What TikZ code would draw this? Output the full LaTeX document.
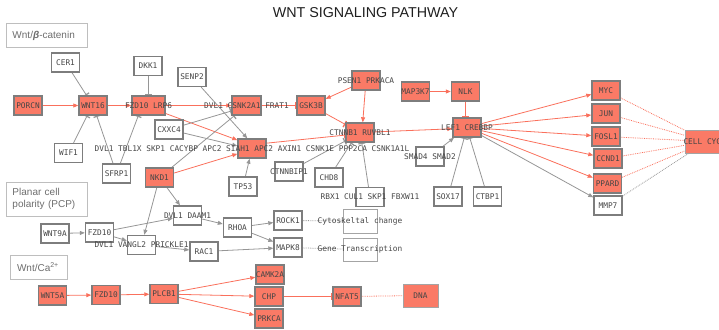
\documentclass[tikz,border=0pt]{standalone}
\usepackage{fontspec}
\setmainfont{Liberation Sans}
\newfontfamily\genefont{DejaVu Sans Mono}
\usetikzlibrary{arrows.meta,backgrounds}

\definecolor{hitfill}{RGB}{250,122,102}
\definecolor{rededge}{RGB}{250,112,92}
\definecolor{boxline}{RGB}{125,125,125}
\definecolor{grayedge}{RGB}{150,150,150}
\definecolor{genetext}{RGB}{70,70,70}
\definecolor{legendline}{RGB}{190,190,190}
\definecolor{legendtext}{RGB}{110,110,110}

% centred label that may run wider than its box
\newcommand{\genelbl}[1]{\makebox[0pt]{#1}}

\tikzset{
  gene/.style={rectangle, draw=boxline, line width=1.4pt, fill=white,
    minimum width=28pt, minimum height=19pt, inner sep=0pt,
    font=\genefont\fontsize{7.8}{9}\selectfont, text=genetext},
  hit/.style={gene, fill=hitfill},
  pheno/.style={gene, draw=boxline!70, line width=1pt},
  legendbox/.style={rectangle, draw=legendline, line width=1pt, fill=white,
    align=left, inner ysep=0pt, font=\fontsize{10}{11.7}\selectfont, text=legendtext},
  act/.style={draw=rededge, line width=0.8pt, -{Triangle[length=5pt,width=4pt]}},
  inh/.style={draw=rededge, line width=0.8pt, -{Bar[width=7pt,line width=1.3pt]}},
  gact/.style={draw=grayedge, line width=0.8pt, -{Triangle[length=5pt,width=4pt]}},
  ginh/.style={draw=grayedge, line width=0.8pt, -{Bar[width=7pt,line width=1.3pt]}},
  rdot/.style={draw=rededge, line width=0.8pt, densely dotted},
  gdot/.style={draw=grayedge, line width=0.8pt, densely dotted},
}

\begin{document}
\begin{tikzpicture}[x=1pt, y=-1pt]
\useasboundingbox (0,0) rectangle (719,329);
\clip (0,0) rectangle (719,329);

% title
\node[font=\fontsize{14.3}{16}\selectfont, text={rgb,255:red,30;green,30;blue,30}] (title) at (365.5,13) {WNT SIGNALING PATHWAY};

% section captions
\node[legendbox, minimum width=81pt, minimum height=24pt, text width=68pt, inner xsep=6.5pt] (lgcanon) at (46.5,36) {Wnt/{\bfseries\itshape β}-catenin};
\node[legendbox, minimum width=81pt, minimum height=34pt, text width=68pt, inner xsep=6.5pt] (lgpcp) at (46.5,199) {Planar cell\\polarity (PCP)};
\node[legendbox, minimum width=57pt, minimum height=24pt, text width=43pt, inner xsep=7pt] (lgca) at (38.5,267) {Wnt/Ca\textsuperscript{2+}};

% canonical pathway
\node[hit] (porcn) at (28,105.5) {\genelbl{PORCN}};
\node[hit] (wnt16) at (93,105.5) {\genelbl{WNT16}};
\node[hit, minimum width=33pt] (lrp6) at (148.5,105.5) {\genelbl{FZD10 LRP6}};
\node[gene] (cer1) at (65.5,62.5) {\genelbl{CER1}};
\node[gene] (dkk1) at (148,66) {\genelbl{DKK1}};
\node[gene] (wif1) at (68.5,153) {\genelbl{WIF1}};
\node[gene] (sfrp1) at (116.5,173.5) {\genelbl{SFRP1}};
\node[gene] (senp2) at (192,77) {\genelbl{SENP2}};
\node[gene] (cxxc4) at (169,129.5) {\genelbl{CXXC4}};
\node[hit] (nkd1) at (159.5,177.5) {\genelbl{NKD1}};
\node[hit, minimum width=29pt] (csnk) at (246.5,105.5) {\genelbl{DVL1 CSNK2A1 FRAT1}};
\node[hit] (gsk) at (311,105.5) {\genelbl{GSK3B}};
\node[hit] (siah) at (252,148.5) {\genelbl{DVL1 TBL1X SKP1 CACYBP APC2 SIAH1 APC2 AXIN1 CSNK1E PPP2CA CSNK1A1L}};
\node[gene] (tp53) at (243,186.5) {\genelbl{TP53}};
\node[gene] (ctnnbip) at (289,171.5) {\genelbl{CTNNBIP1}};
\node[gene] (chd8) at (329,177.5) {\genelbl{CHD8}};
\node[gene] (rbx) at (370,197) {\genelbl{RBX1 CUL1 SKP1 FBXW11}};
\node[hit] (ctnnb) at (360,132.5) {\genelbl{CTNNB1 RUVBL1}};
\node[hit] (psen) at (366,80.5) {\genelbl{PSEN1 PRKACA}};
\node[hit] (map3k7) at (415.5,91.5) {\genelbl{MAP3K7}};
\node[hit] (nlk) at (465.5,91.5) {\genelbl{NLK}};
\node[hit] (lef) at (467,127.5) {\genelbl{LEF1 CREBBP}};
\node[gene] (smad) at (430,156.5) {\genelbl{SMAD4 SMAD2}};
\node[gene] (sox17) at (448,196.5) {\genelbl{SOX17}};
\node[gene] (ctbp1) at (487.5,196.5) {\genelbl{CTBP1}};
\node[hit] (myc) at (606,90.5) {\genelbl{MYC}};
\node[hit] (jun) at (606,113.5) {\genelbl{JUN}};
\node[hit] (fosl1) at (606,136.5) {\genelbl{FOSL1}};
\node[hit] (ccnd1) at (608,158.5) {\genelbl{CCND1}};
\node[hit] (ppard) at (607.5,183.5) {\genelbl{PPARD}};
\node[gene] (mmp7) at (608,205.5) {\genelbl{MMP7}};
\node[hit, draw=boxline!70, line width=1pt, minimum width=44pt, minimum height=23pt] (cellcycle) at (707,141.5) {\genelbl{CELL CYCLE}};

% planar cell polarity
\node[gene] (wnt9a) at (55,233.5) {\genelbl{WNT9A}};
\node[gene] (fzdp) at (99.5,232.5) {\genelbl{FZD10}};
\node[gene] (daam) at (187.5,215.5) {\genelbl{DVL1 DAAM1}};
\node[gene] (vangl) at (141.5,245) {\genelbl{DVL1 VANGL2 PRICKLE1}};
\node[gene] (rac1) at (204,251.5) {\genelbl{RAC1}};
\node[gene] (rhoa) at (237.5,227.5) {\genelbl{RHOA}};
\node[gene] (rock1) at (288,220.5) {\genelbl{ROCK1}};
\node[gene] (mapk8) at (288,247.5) {\genelbl{MAPK8}};
\node[pheno, minimum width=34pt, minimum height=24pt] (cyto) at (360,221) {\genelbl{Cytoskeltal change}};
\node[pheno, minimum width=34pt, minimum height=23pt] (genetx) at (360,249.5) {\genelbl{Gene Transcription}};

% calcium pathway
\node[hit] (wnt5a) at (52.5,295.5) {\genelbl{WNT5A}};
\node[hit] (fzdc) at (106,295) {\genelbl{FZD10}};
\node[hit] (plcb1) at (164,294) {\genelbl{PLCB1}};
\node[hit] (camk2a) at (270,274.5) {\genelbl{CAMK2A}};
\node[hit] (chp) at (269,296.5) {\genelbl{CHP}};
\node[hit] (prkca) at (269,318.5) {\genelbl{PRKCA}};
\node[hit] (nfat5) at (347,296.5) {\genelbl{NFAT5}};
\node[hit, draw=boxline!70, line width=1pt, minimum width=35pt, minimum height=23pt] (dna) at (420.5,295.5) {\genelbl{DNA}};

\begin{pgfonlayer}{background}
% canonical: red interactions
\draw[act] (porcn) -- (wnt16);
\draw[act] (wnt16) -- (lrp6);
\draw[act] (lrp6) -- (csnk);
\draw[act] (lrp6.-25) -- (siah.150);
\draw[act] (nkd1) -- (siah.200);
\draw[inh] (csnk) -- (gsk);
\draw[act] (psen) -- (gsk);
\draw[act] (psen) -- (ctnnb.75);
\draw[inh] (gsk) -- (ctnnb);
\draw[inh] (siah.20) -- (ctnnb.190);
\draw[act] (ctnnb) -- (lef.185);
\draw[act] (map3k7) -- (nlk);
\draw[inh] (nlk.south) -- (nlk.south |- lef.north);
\draw[act] (lef) -- (myc);
\draw[act] (lef) -- (jun);
\draw[act] (lef) -- (fosl1);
\draw[act] (lef) -- (ccnd1);
\draw[act] (lef) -- (ppard);
% canonical: grey interactions
\draw[ginh] (cer1) -- (wnt16);
\draw[ginh] (dkk1) -- (dkk1 |- lrp6.north);
\draw[ginh] (wif1) -- (wnt16.-120);
\draw[ginh] (sfrp1) -- (wnt16.-70);
\draw[ginh] (sfrp1) -- (lrp6.-135);
\draw[gact] (senp2) -- (siah.115);
\draw[ginh] (cxxc4) -- (csnk.200);
\draw[gact] (cxxc4) -- (siah.170);
\draw[ginh] (nkd1) -- (csnk.220);
\draw[gact] (tp53) -- (siah);
\draw[ginh] (ctnnbip) -- (ctnnb.210);
\draw[ginh] (chd8) -- (ctnnb.-130);
\draw[ginh] (rbx) -- (ctnnb.-80);
\draw[gact] (smad) -- (lef);
\draw[ginh] (sox17) -- (lef.-105);
\draw[ginh] (ctbp1) -- (lef.-75);
\draw[gact] (lef) -- (mmp7);
% targets feeding the cell cycle
\draw[rdot] (myc) -- (cellcycle);
\draw[rdot] (jun) -- (cellcycle);
\draw[rdot] (fosl1) -- (cellcycle);
\draw[rdot] (ccnd1) -- (cellcycle);
\draw[rdot] (ppard) -- (cellcycle);
\draw[gdot] (mmp7) -- (cellcycle);
% planar cell polarity
\draw[gact] (wnt9a) -- (fzdp);
\draw[gact] (fzdp) -- (daam);
\draw[gact] (fzdp) -- (vangl);
\draw[gact] (nkd1) -- (daam);
\draw[gact] (nkd1) -- (vangl);
\draw[gact] (daam) -- (rhoa);
\draw[gact] (vangl) -- (rac1);
\draw[gact] (rhoa) -- (rock1);
\draw[gact] (rhoa) -- (mapk8);
\draw[gact] (rac1) -- (mapk8);
\draw[gdot] (rock1) -- (cyto);
\draw[gdot] (mapk8) -- (genetx);
% calcium pathway
\draw[act] (wnt5a) -- (fzdc);
\draw[act] (fzdc) -- (plcb1);
\draw[act] (plcb1) -- (camk2a);
\draw[act] (plcb1) -- (chp);
\draw[act] (plcb1) -- (prkca);
\draw[inh] (chp) -- (nfat5);
\draw[rdot] (nfat5) -- (dna);
\end{pgfonlayer}
\end{tikzpicture}
\end{document}
